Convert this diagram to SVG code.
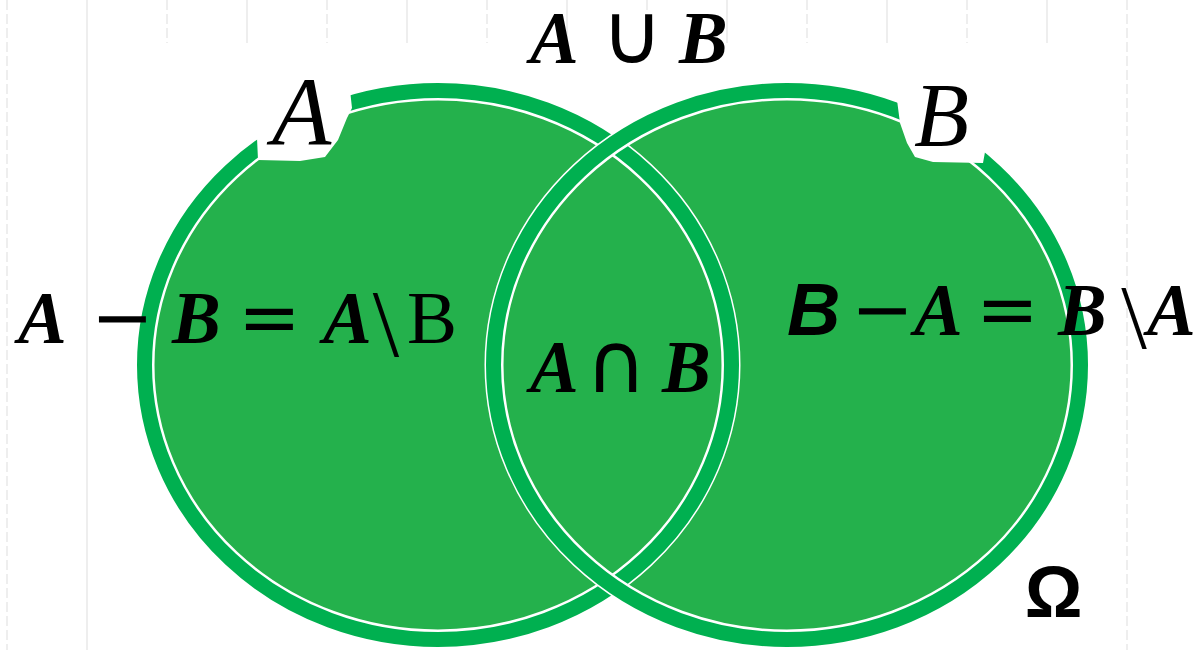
<svg xmlns="http://www.w3.org/2000/svg" width="1197" height="650" viewBox="0 0 1197 650">
<style>
.grid{stroke:#e9e9e9;stroke-width:1.5;fill:none}
.dash{stroke-dasharray:10 4}
.fill{fill:#24b14c}
.ringw{fill:none;stroke:#ffffff;stroke-width:19}
.ring{fill:none;stroke:#00b050;stroke-width:15}
.notch{fill:#ffffff}
.bi{font-family:"Liberation Serif",serif;font-weight:bold;font-style:italic;font-size:73px;fill:#000}
.op{font-family:"DejaVu Sans",sans-serif;font-size:75px;fill:#000}
.sym{font-family:"DejaVu Sans",sans-serif;font-size:84px;fill:#000}
.set{font-family:"Liberation Serif",serif;font-style:italic;fill:#000}
</style>
<rect x="0" y="0" width="1197" height="650" fill="#ffffff"/>
<g id="grid">
<path class="grid dash" d="M7 0V650M1127 0V650M167 0V43M327 0V43M487 0V43M647 0V43M807 0V43M967 0V43"/>
<path class="grid" d="M87 0V650M247 0V43M407 0V43M567 0V43M727 0V43M887 0V43M1047 0V43"/>
</g>
<g id="set-A">
<ellipse class="fill" cx="438" cy="365" rx="301" ry="282"/>
</g>
<g id="set-B">
<ellipse class="fill" cx="787" cy="365" rx="301" ry="282"/>
</g>
<g id="rings">
<ellipse class="ringw" cx="438" cy="365" rx="293" ry="274"/>
<ellipse class="ring" cx="438" cy="365" rx="293.5" ry="274.5"/>
<ellipse class="ringw" cx="787" cy="365" rx="293" ry="274"/>
<ellipse class="ring" cx="787" cy="365" rx="293.5" ry="274.5"/>
</g>
<g id="label-A">
<path class="notch" d="M250 128 L257 138 L258 160 L300 161 L325 157 L338 140 L347 118 L352 108 L350 90 L346 78 Z"/>
<text class="set" x="272" y="144" font-size="97">A</text>
</g>
<g id="label-B">
<path class="notch" d="M888 88 L897 100 L900 123 L907 143 L915 157 L933 162 L983 163 L985 152 L992 138 Z"/>
<text class="set" x="914" y="146" font-size="90">B</text>
</g>
<g id="union">
<text class="bi" x="530" y="63">A</text>
<text class="sym" x="632" y="63" text-anchor="middle">∪</text>
<text class="bi" x="679" y="63">B</text>
</g>
<g id="a-minus-b">
<text y="343"><tspan class="bi" x="18">A</tspan><tspan class="op" x="122.5" text-anchor="middle">−</tspan><tspan class="bi" x="172">B</tspan><tspan class="op" x="269.5" text-anchor="middle">=</tspan><tspan class="bi" x="323">A</tspan><tspan font-family="Liberation Serif, serif" font-size="95" x="386" y="356" text-anchor="middle">\</tspan><tspan font-family="Liberation Serif, serif" font-size="75" x="407" y="343">B</tspan></text>
</g>
<g id="intersection">
<text class="bi" x="530" y="392">A</text>
<text class="sym" x="616" y="392" text-anchor="middle">∩</text>
<text class="bi" x="662" y="392">B</text>
</g>
<g id="b-minus-a">
<text y="335"><tspan font-family="Liberation Sans, sans-serif" font-weight="bold" font-style="italic" font-size="74" x="787">B</tspan><tspan class="op" x="882.5" text-anchor="middle">−</tspan><tspan class="bi" x="914">A</tspan><tspan class="op" x="1007.5" text-anchor="middle">=</tspan><tspan class="bi" x="1058">B</tspan><tspan font-family="Liberation Serif, serif" font-size="92" x="1134" y="348" text-anchor="middle">\</tspan><tspan class="bi" x="1147" y="335" font-size="70">A</tspan></text>
</g>
<g id="omega">
<text x="1053.5" y="617" text-anchor="middle" font-family="Liberation Sans, sans-serif" font-weight="bold" font-size="72">Ω</text>
</g>
</svg>
